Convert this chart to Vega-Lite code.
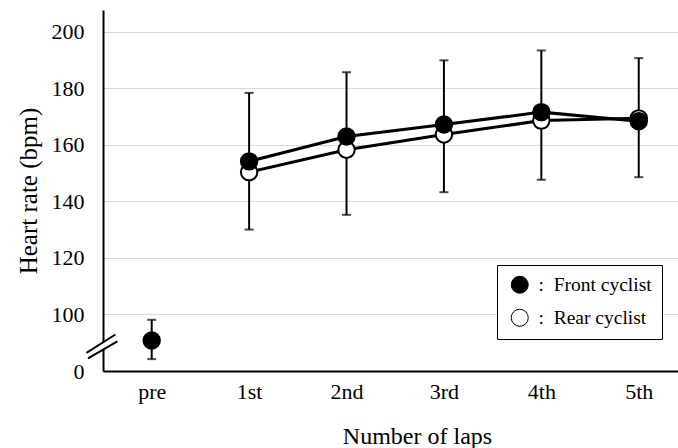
{
  "$schema": "https://vega.github.io/schema/vega-lite/v6.json",
  "width": 575,
  "height": 361,
  "autosize": "none",
  "padding": {"left": 103, "top": 10, "right": 0, "bottom": 77},
  "background": "white",
  "config": {
    "font": "Liberation Serif",
    "view": {"stroke": null},
    "axis": {"labelFont": "Liberation Serif", "titleFont": "Liberation Serif", "labelColor": "black", "titleColor": "black", "titleFontWeight": "normal", "ticks": false, "tickSize": 0, "domainColor": "black", "domainWidth": 2},
    "legend": {"labelFont": "Liberation Serif"}
  },
  "datasets": {
    "points": [
      {"lap": "1st", "idx": 1, "series": "Rear cyclist", "hr": 150.3},
      {"lap": "2nd", "idx": 2, "series": "Rear cyclist", "hr": 158.2},
      {"lap": "3rd", "idx": 3, "series": "Rear cyclist", "hr": 163.6},
      {"lap": "4th", "idx": 4, "series": "Rear cyclist", "hr": 168.5},
      {"lap": "5th", "idx": 5, "series": "Rear cyclist", "hr": 169.3},
      {"lap": "pre", "idx": 0, "series": "Front cyclist", "hr": 90.8},
      {"lap": "1st", "idx": 1, "series": "Front cyclist", "hr": 154.1},
      {"lap": "2nd", "idx": 2, "series": "Front cyclist", "hr": 162.9},
      {"lap": "3rd", "idx": 3, "series": "Front cyclist", "hr": 167.1},
      {"lap": "4th", "idx": 4, "series": "Front cyclist", "hr": 171.5},
      {"lap": "5th", "idx": 5, "series": "Front cyclist", "hr": 168.3}
    ],
    "errors": [
      {"lap": "pre", "idx": 0, "lower": 84.2, "upper": 98.1},
      {"lap": "1st", "idx": 1, "lower": 130.0, "upper": 178.3},
      {"lap": "2nd", "idx": 2, "lower": 135.2, "upper": 185.6},
      {"lap": "3rd", "idx": 3, "lower": 143.2, "upper": 189.8},
      {"lap": "4th", "idx": 4, "lower": 147.6, "upper": 193.3},
      {"lap": "5th", "idx": 5, "lower": 148.5, "upper": 190.6}
    ],
    "breakGap": [
      {"x": -0.565, "y": 87.5, "x2": -0.431, "y2": 90.3}
    ],
    "breakLines": [
      {"x": -0.670, "y": 86.4, "x2": -0.373, "y2": 92.9},
      {"x": -0.654, "y": 84.5, "x2": -0.352, "y2": 90.5}
    ]
  },
  "layer": [
    {
      "data": {"name": "errors"},
      "mark": {"type": "errorbar", "ticks": {"size": 9, "thickness": 2, "color": "black"}, "rule": {"strokeWidth": 2, "color": "black"}},
      "encoding": {
        "x": {
          "field": "idx", "type": "quantitative",
          "scale": {"domain": [-0.5, 5.403], "nice": false, "zero": false},
          "axis": {
            "values": [0, 1, 2, 3, 4, 5],
            "labelExpr": "['pre','1st','2nd','3rd','4th','5th'][datum.value]",
            "grid": false,
            "labelFontSize": 22,
            "labelPadding": 10,
            "title": "Number of laps",
            "titleFontSize": 24,
            "titleX": 314,
            "titleY": 72,
            "titleBaseline": "alphabetic",
            "titleAnchor": "middle"
          }
        },
        "y": {
          "field": "lower", "type": "quantitative",
          "scale": {"domain": [80, 207.6], "nice": false, "zero": false},
          "axis": {
            "values": [80, 100, 120, 140, 160, 180, 200],
            "labelExpr": "datum.value == 80 ? '0' : datum.label",
            "grid": true,
            "gridColor": "#d9d9d9",
            "gridWidth": 1,
            "labelFontSize": 22,
            "labelPadding": 19,
            "title": "Heart rate (bpm)",
            "titleFontSize": 25,
            "titlePadding": 10
          }
        },
        "y2": {"field": "upper"}
      }
    },
    {
      "data": {"name": "points"},
      "transform": [{"filter": "datum.idx > 0"}],
      "mark": {"type": "line", "color": "black", "strokeWidth": 3},
      "encoding": {
        "x": {"field": "idx", "type": "quantitative"},
        "y": {"field": "hr", "type": "quantitative"},
        "detail": {"field": "series", "type": "nominal"}
      }
    },
    {
      "data": {"name": "points"},
      "mark": {"type": "point", "filled": true, "shape": "circle", "size": 270, "stroke": "black", "strokeWidth": 2, "opacity": 1},
      "encoding": {
        "x": {"field": "idx", "type": "quantitative"},
        "y": {"field": "hr", "type": "quantitative"},
        "fill": {
          "field": "series", "type": "nominal",
          "scale": {"domain": ["Front cyclist", "Rear cyclist"], "range": ["black", "white"]},
          "legend": {
            "title": null,
            "orient": "none",
            "legendX": 394,
            "legendY": 255,
            "direction": "vertical",
            "labelExpr": "':\u2002' + datum.label",
            "labelFont": "Liberation Serif",
            "labelFontSize": 19.5,
            "labelColor": "black",
            "symbolType": "circle",
            "symbolSize": 289,
            "symbolStrokeColor": "black",
            "symbolStrokeWidth": 1,
            "symbolOffset": 3,
            "rowPadding": 11,
            "padding": 10,
            "labelOffset": 9,
            "strokeColor": "black",
            "fillColor": "white",
            "encode": {"legend": {"update": {"strokeWidth": {"value": 2}}}}
          }
        }
      }
    },
    {
      "data": {"name": "breakGap"},
      "mark": {"type": "rule", "color": "white", "strokeWidth": 5},
      "encoding": {
        "x": {"field": "x", "type": "quantitative"},
        "y": {"field": "y", "type": "quantitative"},
        "x2": {"field": "x2"},
        "y2": {"field": "y2"}
      }
    },
    {
      "data": {"name": "breakLines"},
      "mark": {"type": "rule", "color": "black", "strokeWidth": 2},
      "encoding": {
        "x": {"field": "x", "type": "quantitative"},
        "y": {"field": "y", "type": "quantitative"},
        "x2": {"field": "x2"},
        "y2": {"field": "y2"}
      }
    }
  ]
}
